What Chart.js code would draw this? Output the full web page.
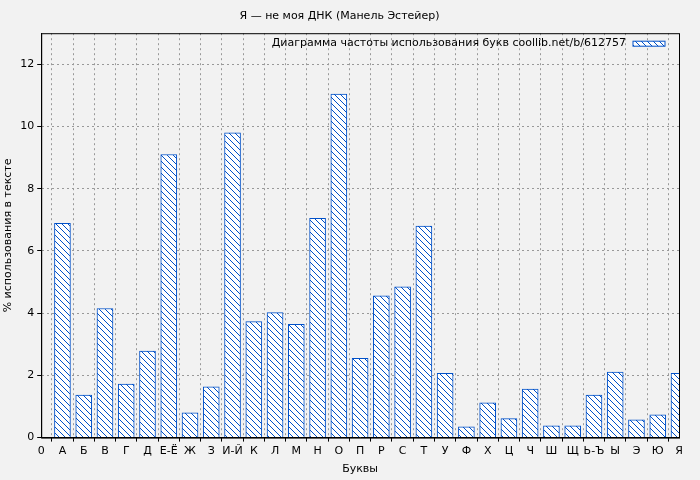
<!DOCTYPE html>
<html>
  <head>
    <script src="https://cdn.jsdelivr.net/npm/chart.js"></script>
    <style>
      body { margin: 0; background: #f2f2f2; }
      .chart-container { width: 700px; height: 480px; }
    </style>
  </head>
  <body>
    <div class="chart-container"><canvas id="lettersChart"></canvas></div>
    <script>
      const letters = ["А","Б","В","Г","Д","Е-Ё","Ж","З","И-Й","К","Л","М","Н","О","П","Р","С","Т","У","Ф","Х","Ц","Ч","Ш","Щ","Ь-Ъ","Ы","Э","Ю","Я"];
      const percents = [6.89,1.37,4.15,1.72,2.78,9.10,0.80,1.63,9.80,3.73,4.02,3.64,7.05,11.04,2.55,4.56,4.85,6.80,2.07,0.35,1.12,0.61,1.56,0.38,0.38,1.37,2.11,0.57,0.73,2.07];
      const tickLabels = ["0"].concat(letters);
      const yTicks = [0, 2, 4, 6, 8, 10, 12];
      const legendText = "Диаграмма частоты использования букв coollib.net/b/612757";

      function makeHatch() {
        const c = document.createElement("canvas");
        c.width = 6; c.height = 6;
        const g = c.getContext("2d");
        g.fillStyle = "#ffffff";
        g.fillRect(0, 0, 6, 6);
        g.strokeStyle = "#0050c8";
        g.lineWidth = 1;
        g.beginPath();
        g.moveTo(-1, -1); g.lineTo(7, 7);
        g.moveTo(-1, 5); g.lineTo(1, 7);
        g.moveTo(5, -1); g.lineTo(7, 1);
        g.stroke();
        return g.createPattern(c, "repeat");
      }
      const hatch = makeHatch();

      const legendPlugin = {
        id: "boxLegend",
        afterDraw(chart) {
          const { ctx, chartArea } = chart;
          ctx.save();
          ctx.font = "11px 'DejaVu Sans'";
          ctx.fillStyle = "#000";
          ctx.textAlign = "right";
          ctx.textBaseline = "middle";
          const y = chartArea.top + 10;
          ctx.fillText(legendText, chartArea.right - 53, y);
          ctx.fillStyle = hatch;
          ctx.fillRect(chartArea.right - 46, y - 2, 32, 5);
          ctx.strokeStyle = "#0050c8";
          ctx.strokeRect(chartArea.right - 46, y - 2, 32, 5);
          ctx.restore();
        },
      };

      new Chart(document.getElementById("lettersChart"), {
        type: "bar",
        data: {
          datasets: [{
            data: percents.map((v, i) => ({ x: i + 1, y: v })),
            backgroundColor: hatch,
            borderColor: "#0050c8",
            borderWidth: 1,
            barThickness: 16,
          }],
        },
        options: {
          responsive: true,
          maintainAspectRatio: false,
          animation: false,
          layout: { padding: { top: 4, right: 21, left: 0, bottom: 2 } },
          plugins: {
            legend: { display: false },
            tooltip: { enabled: false },
            title: {
              display: true,
              text: "Я — не моя ДНК (Манель Эстейер)",
              color: "#000",
              font: { family: "DejaVu Sans", size: 11, weight: "normal" },
              padding: { top: 6, bottom: 10 },
            },
          },
          scales: {
            x: {
              type: "linear",
              min: 0,
              max: 30,
              offset: false,
              afterBuildTicks: (axis) => { axis.ticks = tickLabels.map((_, i) => ({ value: i })); },
              ticks: {
                autoSkip: false,
                maxRotation: 0,
                color: "#000",
                font: { family: "DejaVu Sans", size: 11 },
                callback: (v) => tickLabels[v],
              },
              grid: { color: "#999", tickColor: "#000", tickLength: 4, drawTicks: true },
              border: { color: "#000", dash: [2, 3] },
              title: { display: true, text: "Буквы", color: "#000", font: { family: "DejaVu Sans", size: 11 }, padding: 2 },
            },
            y: {
              min: 0,
              max: 13,
              afterBuildTicks: (axis) => { axis.ticks = yTicks.map((v) => ({ value: v })); },
              ticks: { color: "#000", font: { family: "DejaVu Sans", size: 11 } },
              grid: { color: "#999", tickColor: "#000", tickLength: 4 },
              border: { color: "#000", dash: [2, 3] },
              title: { display: true, text: "% использования в тексте", color: "#000", font: { family: "DejaVu Sans", size: 11 }, padding: 2 },
            },
          },
        },
        plugins: [legendPlugin, {
          id: "frame",
          afterDraw(chart) {
            const { ctx, chartArea: a } = chart;
            ctx.save();
            ctx.strokeStyle = "#000";
            ctx.lineWidth = 1;
            ctx.strokeRect(a.left + 0.5, a.top + 0.5, a.width, a.height);
            ctx.restore();
          },
        }],
      });
    </script>
  </body>
</html>
